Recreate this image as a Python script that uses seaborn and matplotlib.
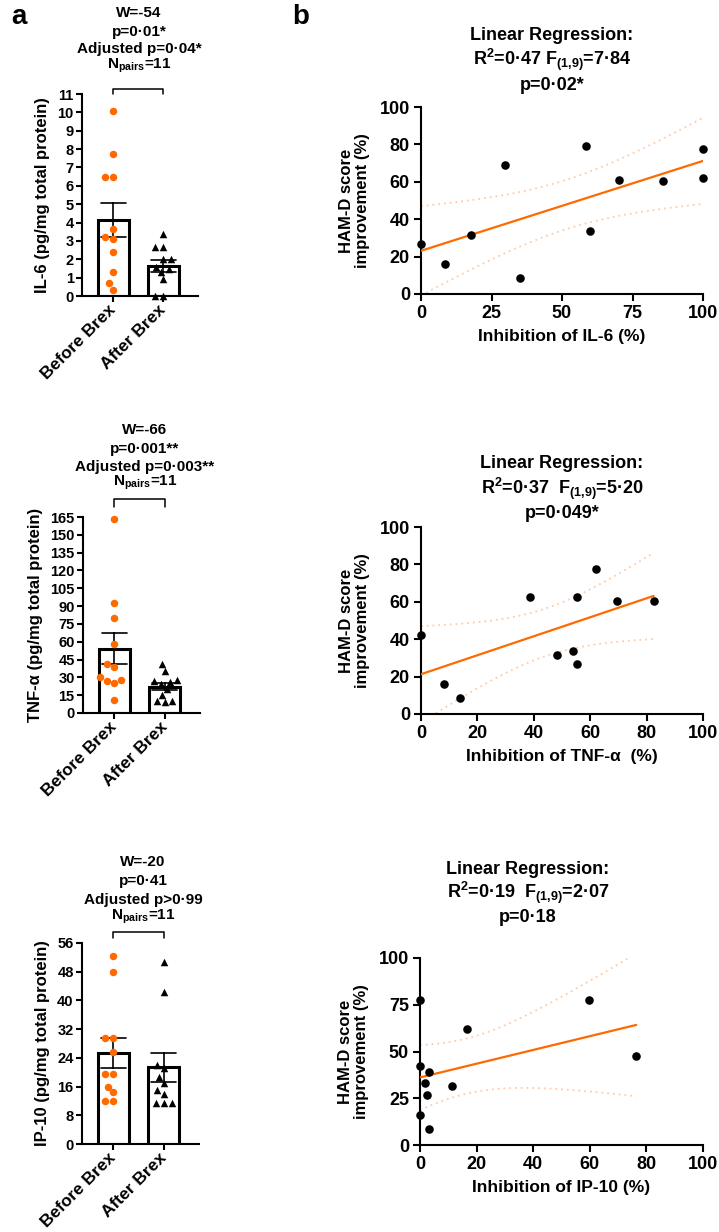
import numpy as np
import pandas as pd
import matplotlib
matplotlib.use('Agg')
import matplotlib.pyplot as plt
import seaborn as sns
from matplotlib.transforms import blended_transform_factory

# Data
groups = ['Before Brex', 'After Brex']

il6_before = [10.1, 7.75, 6.5, 6.5, 3.65, 3.1, 3.2, 2.4, 1.3, 0.7, 0.35]
il6_after = [3.35, 2.65, 2.65, 2.0, 2.0, 1.6, 1.45, 1.3, 0.9, 0.0, 0.0]
tnf_before = [163, 93, 80, 58, 41, 39, 30, 28, 27, 25, 11]
tnf_after = [41, 35, 28, 27, 26, 24, 20, 15, 10, 10, 9]
ip10_before = [52.5, 48, 29.5, 29.5, 25.5, 19.5, 19.5, 16, 14.5, 12, 12]
ip10_after = [50.6, 42.4, 22, 21.1, 18.8, 17.1, 15, 13.9, 11.3, 11.3, 11.5]

il6_inhib = [0, 8.4, 17.8, 29.9, 35, 58.4, 59.8, 70.1, 85.7, 100, 100]
il6_hamd = [26.7, 16, 31.7, 68.8, 8.7, 79, 33.5, 61.1, 60.4, 77.7, 62.2]
tnf_inhib = [0, 8.3, 13.9, 38.5, 48.3, 53.9, 55.4, 55.4, 61.9, 69.6, 82.5]
tnf_hamd = [42.2, 16, 8.7, 62.3, 31.5, 33.5, 62.3, 26.9, 77.6, 60.3, 60.3]
ip10_inhib = [0, 0, 0, 3.3, 1.8, 2.4, 3.3, 11.2, 16.6, 59.8, 76.4]
ip10_hamd = [77.4, 42.2, 16, 39.1, 33.3, 26.7, 8.5, 31.5, 61.9, 77.4, 47.7]

il6_stats = ['W=-54', 'p=0·01*', 'Adjusted p=0·04*', r'N$_{pairs}$=11']
tnf_stats = ['W=-66', 'p=0·001**', 'Adjusted p=0·003**', r'N$_{pairs}$=11']
ip10_stats = ['W=-20', 'p=0·41', 'Adjusted p>0·99', r'N$_{pairs}$=11']

il6_reg = ['Linear Regression:', r'R$^{2}$=0·47 F$_{(1{,}9)}$=7·84', 'p=0·02*']
tnf_reg = ['Linear Regression:', r'R$^{2}$=0·37  F$_{(1{,}9)}$=5·20', 'p=0·049*']
ip10_reg = ['Linear Regression:', r'R$^{2}$=0·19  F$_{(1{,}9)}$=2·07', 'p=0·18']

ORANGE = '#ff6a00'
W, H = 719, 1232

sns.set_theme(style='ticks')
plt.rcParams.update({
    'font.family': ['Liberation Sans', 'DejaVu Sans'],
    'font.weight': 'bold',
    'axes.labelweight': 'bold',
    'axes.linewidth': 1.5,
    'axes.edgecolor': 'black',
    'xtick.color': 'black',
    'ytick.color': 'black',
    'text.color': 'black',
    'axes.labelcolor': 'black',
    'xtick.major.width': 1.5,
    'ytick.major.width': 1.5,
    'mathtext.fontset': 'custom',
    'mathtext.default': 'bf',
    'mathtext.bf': 'Liberation Sans:bold',
    'mathtext.rm': 'Liberation Sans:bold',
    'mathtext.it': 'Liberation Sans:bold',
})

fig = plt.figure(figsize=(W / 100, H / 100), dpi=100)


def px_axes(x0, y0, x1, y1):
    # axes box given in pixel coords (top-left origin)
    return fig.add_axes([x0 / W, 1 - y1 / H, (x1 - x0) / W, (y1 - y0) / H])


def ftext(x, y, s, size, **kw):
    fig.text(x / W, 1 - y / H, s, ha='center', va='center', fontsize=size,
             fontweight='bold', **kw)


def bar_panel(ax, before, after, yticks, ylabel, stats, cx, ys, bracket):
    df = pd.DataFrame({'group': [groups[0]] * len(before) + [groups[1]] * len(after),
                       'value': before + after})
    sns.barplot(data=df, x='group', y='value', order=groups, errorbar='se',
                width=0.62, color='white', saturation=1, edgecolor='black',
                linewidth=2.2, capsize=0.5,
                err_kws={'color': 'black', 'linewidth': 1.2}, ax=ax)
    sns.swarmplot(data=df[df['group'] == groups[0]], x='group', y='value', order=groups,
                  color=ORANGE, marker='o', size=5.4, linewidth=0, ax=ax,
                  clip_on=False, zorder=4)
    sns.swarmplot(data=df[df['group'] == groups[1]], x='group', y='value', order=groups,
                  color='black', marker='^', size=5.4, linewidth=0, ax=ax,
                  clip_on=False, zorder=4)
    ax.set_xlim(-0.62, 1.7)
    ax.set_ylim(yticks[0], yticks[-1])
    ax.set_yticks(yticks)
    ax.set_xticks([0, 1])
    ax.set_xticklabels(groups, rotation=45, ha='right', va='center',
                       rotation_mode='anchor', fontsize=12.5)
    ax.tick_params(axis='y', labelsize=10.5, length=4, pad=2)
    ax.tick_params(axis='x', length=4, pad=4)
    ax.set_xlabel('')
    ax.set_ylabel(ylabel, fontsize=12, labelpad=5)
    sns.despine(ax=ax)
    tr = blended_transform_factory(ax.transData, ax.transAxes)
    lo, hi = bracket
    ax.plot([0, 0, 1, 1], [lo, hi, hi, lo], transform=tr, color='black',
            linewidth=1.1, clip_on=False)
    for s, y in zip(stats, ys):
        ftext(cx, y, s, 11)


def reg_panel(ax, x, y, xticks, yticks, xlabel, stats, cx, ys):
    x = np.asarray(x, float)
    y = np.asarray(y, float)
    sns.regplot(x=x, y=y, ci=None, truncate=True, color='black', ax=ax,
                scatter_kws={'s': 38, 'alpha': 1, 'clip_on': False, 'zorder': 4,
                             'linewidths': 0},
                line_kws={'color': ORANGE, 'linewidth': 1.6, 'zorder': 3})
    # 95% confidence band of the fit, dotted
    n = len(x)
    b, a = np.polyfit(x, y, 1)
    resid = y - (a + b * x)
    s = np.sqrt(np.sum(resid ** 2) / (n - 2))
    sxx = np.sum((x - x.mean()) ** 2)
    xs = np.linspace(x.min(), x.max(), 200)
    half = 2.262 * s * np.sqrt(1 / n + (xs - x.mean()) ** 2 / sxx)
    for sign in (1, -1):
        ax.plot(xs, a + b * xs + sign * half, color=ORANGE, alpha=0.35,
                linewidth=1.3, linestyle=(0, (1, 2.2)))
    ax.set_xlim(xticks[0], xticks[-1])
    ax.set_ylim(yticks[0], yticks[-1])
    ax.set_xticks(xticks)
    ax.set_yticks(yticks)
    ax.tick_params(labelsize=13, length=5, pad=3)
    ax.set_xlabel(xlabel, fontsize=12.5, labelpad=5)
    ax.set_ylabel('HAM-D score\nimprovement (%)', fontsize=12, labelpad=7,
                  linespacing=1.1)
    sns.despine(ax=ax)
    for t, yy in zip(stats, ys):
        ftext(cx, yy, t, 13)


a1 = px_axes(82, 94, 198, 296)
a2 = px_axes(83, 517, 200, 713)
a3 = px_axes(82, 943, 199, 1144)
b1 = px_axes(421, 107, 703, 294)
b2 = px_axes(421, 527, 703, 714)
b3 = px_axes(420, 958, 703, 1145)

bar_panel(a1, il6_before, il6_after, list(range(0, 12)),
          'IL-6 (pg/mg total protein)', il6_stats, 139, [13, 32, 49, 66], (1.0, 1.025))
bar_panel(a2, tnf_before, tnf_after, list(range(0, 166, 15)),
          'TNF-α (pg/mg total protein)', tnf_stats, 145, [430, 449, 467, 483], (1.051, 1.092))
bar_panel(a3, ip10_before, ip10_after, list(range(0, 57, 8)),
          'IP-10 (pg/mg total protein)', ip10_stats, 143, [862, 881, 900, 917], (1.025, 1.055))

reg_panel(b1, il6_inhib, il6_hamd, [0, 25, 50, 75, 100], list(range(0, 101, 20)),
          'Inhibition of IL-6 (%)', il6_reg, 552, [35, 60, 85])
reg_panel(b2, tnf_inhib, tnf_hamd, list(range(0, 101, 20)), list(range(0, 101, 20)),
          'Inhibition of TNF-α  (%)', tnf_reg, 562, [464, 489, 514])
reg_panel(b3, ip10_inhib, ip10_hamd, list(range(0, 101, 20)), [0, 25, 50, 75, 100],
          'Inhibition of IP-10 (%)', ip10_reg, 528, [869, 893, 918])

ftext(19, 17, 'a', 20)
ftext(301, 17, 'b', 20)

fig.savefig('out.png', dpi=100)
